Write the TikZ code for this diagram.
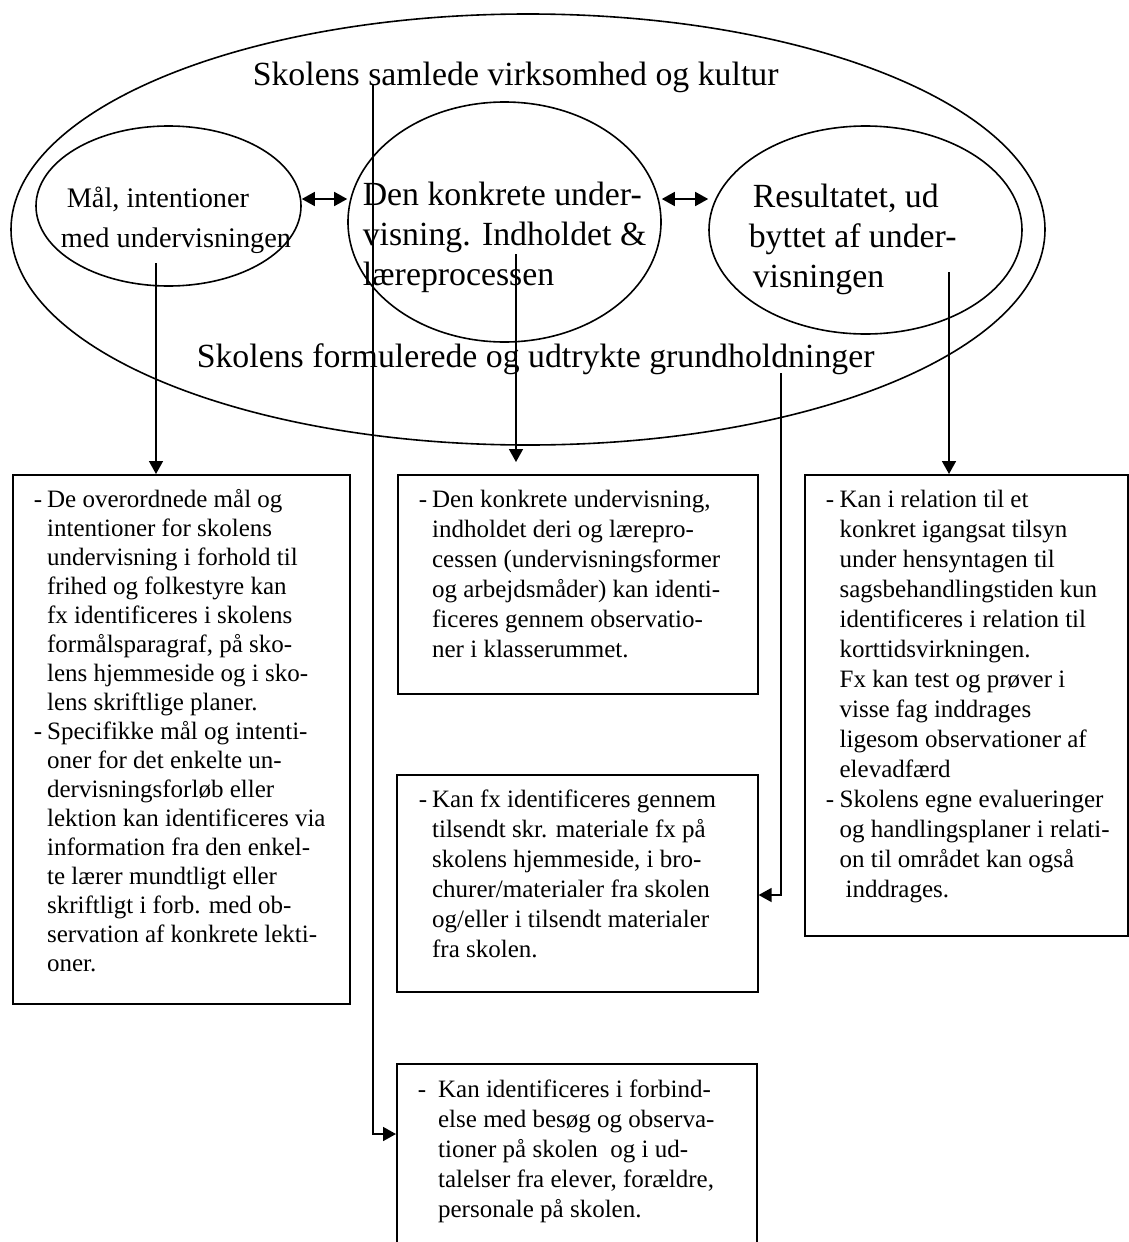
\documentclass[tikz,border=0pt]{standalone}
\usepackage{fontspec}
\setmainfont{Liberation Serif}
\usetikzlibrary{calc,positioning,shapes.geometric,arrows.meta}

\begin{document}
\begin{tikzpicture}[x=1pt,y=-1pt,line width=1.6pt,
  ring/.style={draw,ellipse,inner sep=0pt},
  box/.style={draw,rectangle,anchor=north west,inner sep=0pt},
  boxtext/.style={anchor=base west,inner sep=0pt,font=\fontsize{25}{30}\selectfont},
  bigtext/.style={anchor=base west,inner sep=0pt,font=\fontsize{33.8}{40}\selectfont},
  arr/.style={-{Triangle[length=13pt,width=14pt]}},
  dbl/.style={{Triangle[length=13pt,width=14pt]}-{Triangle[length=13pt,width=14pt]}}]
\clip (0,0) rectangle (1129,1242);

% ellipses
\node[ring,minimum width=1034pt,minimum height=431pt] (schoolell) at (528,229.5) {};
\node[ring,minimum width=265pt,minimum height=160pt] (goalell) at (168.5,206) {};
\node[ring,minimum width=313pt,minimum height=240pt] (teachell) at (504.5,222) {};
\node[ring,minimum width=313pt,minimum height=208pt] (resell) at (865.5,230) {};

\node[bigtext] (culturetext) at (252,85) {Skolens samlede virksomhed og kultur};
\node[bigtext] (grundtext) at (196,367) {Skolens formulerede og udtrykte grundholdninger};

\node[anchor=base west,inner sep=0pt,font=\fontsize{28.3}{40}\selectfont] (goaltitle) at (60,207)
  {\begin{tabular}[t]{@{}l@{}}\hspace{6pt}Mål, intentioner\\med undervisningen\end{tabular}};
\node[bigtext] (teachtitle) at (362,205)
  {\begin{tabular}[t]{@{}l@{}}Den konkrete under-\\visning. Indholdet \&\\læreprocessen\end{tabular}};
\node[bigtext] (restitle) at (748,207)
  {\begin{tabular}[t]{@{}l@{}}\hspace{4pt}Resultatet, ud\\byttet af under-\\\hspace{4pt}visningen\end{tabular}};

% boxes
\node[box,minimum width=337pt,minimum height=529pt] (goalbox) at (12,474) {};
\node[box,minimum width=360pt,minimum height=219pt] (teachbox) at (397,474) {};
\node[box,minimum width=361pt,minimum height=217pt] (matbox) at (396,774) {};
\node[box,minimum width=323pt,minimum height=461pt] (resbox) at (804,474) {};
\node[box,minimum width=360pt,minimum height=240pt] (visitbox) at (396,1063) {};

\node[boxtext,font=\fontsize{25}{29}\selectfont] (goaltext) at ([shift={(21,33)}]goalbox.north west)
  {\begin{tabular}[t]{@{}l@{\hspace{5pt}}l@{}}
  - & De overordnede mål og\\
    & intentioner for skolens\\
    & undervisning i forhold til\\
    & frihed og folkestyre kan\\
    & fx identificeres i skolens\\
    & formålsparagraf, på sko-\\
    & lens hjemmeside og i sko-\\
    & lens skriftlige planer.\\
  - & Specifikke mål og intenti-\\
    & oner for det enkelte un-\\
    & dervisningsforløb eller\\
    & lektion kan identificeres via\\
    & information fra den enkel-\\
    & te lærer mundtligt eller\\
    & skriftligt i forb. med ob-\\
    & servation af konkrete lekti-\\
    & oner.
  \end{tabular}};
\node[boxtext] (teachtext) at ([shift={(21,33)}]teachbox.north west)
  {\begin{tabular}[t]{@{}l@{\hspace{5pt}}l@{}}
  - & Den konkrete undervisning,\\
    & indholdet deri og lærepro-\\
    & cessen (undervisningsformer\\
    & og arbejdsmåder) kan identi-\\
    & ficeres gennem observatio-\\
    & ner i klasserummet.
  \end{tabular}};
\node[boxtext] (mattext) at ([shift={(22,33)}]matbox.north west)
  {\begin{tabular}[t]{@{}l@{\hspace{5pt}}l@{}}
  - & Kan fx identificeres gennem\\
    & tilsendt skr. materiale fx på\\
    & skolens hjemmeside, i bro-\\
    & churer/materialer fra skolen\\
    & og/eller i tilsendt materialer\\
    & fra skolen.
  \end{tabular}};
\node[boxtext] (restext) at ([shift={(21,33)}]resbox.north west)
  {\begin{tabular}[t]{@{}l@{\hspace{5.5pt}}l@{}}
  - & Kan i relation til et\\
    & konkret igangsat tilsyn\\
    & under hensyntagen til\\
    & sagsbehandlingstiden kun\\
    & identificeres i relation til\\
    & korttidsvirkningen.\\
    & Fx kan test og prøver i\\
    & visse fag inddrages\\
    & ligesom observationer af\\
    & elevadfærd\\
  - & Skolens egne evalueringer\\
    & og handlingsplaner i relati-\\
    & on til området kan også\\
    & \hspace{6pt}inddrages.
  \end{tabular}};
\node[boxtext] (visittext) at ([shift={(21,34)}]visitbox.north west)
  {\begin{tabular}[t]{@{}l@{\hspace{12pt}}l@{}}
  - & Kan identificeres i forbind-\\
    & else med besøg og observa-\\
    & tioner på skolen \ og i ud-\\
    & talelser fra elever, forældre,\\
    & personale på skolen.
  \end{tabular}};

% connectors
\coordinate (goalfoot) at (156,263);
\coordinate (teachfoot) at (516,254);
\coordinate (resfoot) at (949,272);
\coordinate (grundfoot) at (781,373);
\coordinate (grundturn) at (781,895);
\coordinate (culturefoot) at (373,85);
\coordinate (cultureturn) at (373,1134);

\draw[arr] (goalfoot) -- (goalfoot |- goalbox.north);
\draw[arr,shorten >=12pt] (teachfoot) -- (teachfoot |- teachbox.north);
\draw[arr] (resfoot) -- (resfoot |- resbox.north);
\draw[arr] (grundfoot) -- (grundturn) -- (grundturn -| matbox.east);
\draw[arr] (culturefoot) -- (cultureturn) -- (cultureturn -| visitbox.west);
\draw[dbl] ([yshift=7pt]goalell.east) -- ([yshift=7pt]goalell.east -| teachell.west);
\draw[dbl] ([yshift=23pt]teachell.east) -- ([yshift=23pt]teachell.east -| resell.west);
\end{tikzpicture}
\end{document}
